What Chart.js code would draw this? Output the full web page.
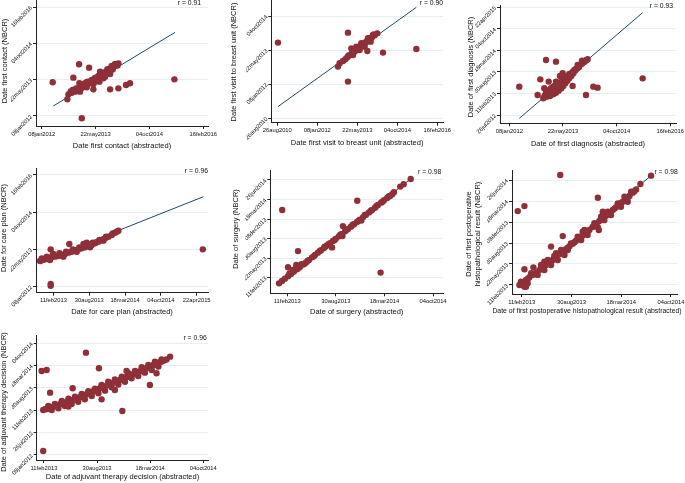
<!DOCTYPE html>
<html>
<head>
<meta charset="utf-8">
<script src="https://cdn.jsdelivr.net/npm/chart.js@4.4.1/dist/chart.umd.min.js"></script>
<style>
  html, body { margin: 0; padding: 0; background: #fff; width: 685px; height: 483px; overflow: hidden; }
  canvas { position: absolute; left: -20px; top: -20px; }
</style>
</head>
<body>
<canvas id="c1" width="725" height="523"></canvas>
<canvas id="c2" width="725" height="523"></canvas>
<canvas id="c3" width="725" height="523"></canvas>
<canvas id="c4" width="725" height="523"></canvas>
<canvas id="c5" width="725" height="523"></canvas>
<canvas id="c6" width="725" height="523"></canvas>
<canvas id="c7" width="725" height="523"></canvas>
<script>
// all values are days since 01jan2013, [abstracted, NBCR]

// tick labels
const ticks2012_16 = ['08jan2012', '22may2013', '04oct2014', '16feb2016'];
const ticks2010_16 = ['26aug2010', '08jan2012', '22may2013', '04oct2014', '16feb2016'];
const ticks2010_14 = ['26aug2010', '08jan2012', '22may2013', '04oct2014'];
const ticksDiagY = ['26jul2012', '11feb2013', '30aug2013', '18mar2014', '04oct2014', '22apr2015'];
const ticksPlanX = ['11feb2013', '30aug2013', '18mar2014', '04oct2014', '22apr2015'];
const ticksShortX = ['11feb2013', '30aug2013', '18mar2014', '04oct2014'];
const ticksShortY = ['11feb2013', '22may2013', '30aug2013', '08dec2013', '18mar2014', '26jun2014'];
const ticksAdjY = ['08jan2012', '26jul2012', '11feb2013', '30aug2013', '18mar2014', '04oct2014'];

// titles
const xTitles = [
  'Date first contact (abstracted)',
  'Date first visit to breast unit (abstracted)',
  'Date of first diagnosis (abstracted)',
  'Date for care plan (abstracted)',
  'Date of surgery (abstracted)',
  'Date of first postoperative histopathological result (abstracted)',
  'Date of adjuvant therapy decision (abstracted)'
];
const yTitles = [
  ['Date first contact (NBCR)'],
  ['Date first visit to breast unit (NBCR)'],
  ['Date of first diagnosis (NBCR)'],
  ['Date for care plan (NBCR)'],
  ['Date of surgery (NBCR)'],
  ['Date of first postoperative', 'histopathological result (NBCR)'],
  ['Date of adjuvant therapy decision (NBCR)']
];
const rValues = ['0.91', '0.90', '0.93', '0.96', '0.98', '0.98', '0.96'];

// data
const contactPts = [[-111,-61],[-80,-38],[-49,-24],[-28,-1],[-3,8],[22,36],[43,54],[65,82],[90,91],[115,114],
  [136,128],[158,146],[183,174],[198,206],[220,229],[239,252],[260,275],[282,298],[307,320],[331,343],[353,366],
  [322,357],[291,330],[251,284],[214,238],[183,252],[167,192],[136,160],[105,137],[74,114],[43,91],[-3,54],
  [-40,22],[-71,-1],[-3,-24],[59,36],[121,82],[177,114],[229,183],[276,219],[214,160],
  [-90,-20],[-60,-10],[-20,20],[10,25],[30,60],[55,70],[80,100],[100,95],[130,140],[150,120],[170,160],
  [190,190],[210,200],[230,210],[250,260],[270,250],[290,310],[300,280],[320,330],[340,350],[345,335],
  [0,40],[-30,10],[20,70],[60,110],[140,170],[200,230],
  [-257,105],[-121,-129],[-12,353],[81,307],[-65,169],[-9,91],[13,-391],[121,8],[276,8],[353,22],[424,68],[461,91],[873,146]];
const contactFit = [[-251,-221],[879,793]];

const visitPts = [[-80,-52],[-38,-18],[-9,6],[16,36],[45,65],[74,94],[108,119],[141,143],[170,177],[199,207],
  [233,241],[266,270],[295,299],[324,329],[358,358],[391,387],[66,167],[129,192],[191,241],[274,314],[337,363],
  [87,70],[170,143],[233,192],[308,265],[30,60],[100,130],[150,170],[210,230],[250,260],[300,320],[350,370],
  [-851,251],[24,397],[24,-321],[-101,-101],[266,128],[462,104],[879,158]];
const visitFit = [[-851,-688],[879,769]];

const diagPts = [[-42,-4],[-11,11],[20,17],[51,33],[76,48],[101,67],[126,89],[144,110],[163,135],[182,160],
  [200,181],[219,203],[238,228],[256,253],[275,274],[293,296],[312,315],[331,330],[349,345],[371,358],
  [-17,48],[14,73],[45,98],[76,120],[107,141],[132,166],[157,191],[45,42],[92,98],[123,129],[-2,27],[29,58],
  [60,79],[200,222],[247,259],[278,305],[318,345],[113,203],[138,228],[76,151],
  [10,30],[40,60],[70,95],[100,110],[130,150],[150,170],[170,170],[190,200],[210,215],[230,240],[260,265],
  [290,285],[320,320],[340,335],[360,350],[-30,20],[0,60],[30,90],[60,110],[90,130],
  [-266,104],[884,181],[-17,352],[76,336],[-70,172],[-95,27],[231,110],[356,27],[424,104],[464,95],[8,151],[-33,89]];
const diagFit = [[-266,-190],[884,791]];

const planPts = [[-33,-14],[-19,-1],[-4,8],[13,21],[32,35],[50,44],[69,53],[88,66],[106,80],[125,98],[143,111],
  [162,124],[181,142],[199,156],[218,169],[237,187],[255,201],[274,223],[292,245],[311,268],[330,290],[348,312],
  [367,335],[385,366],[404,393],[-24,21],[4,44],[37,66],[75,89],[112,111],[149,142],[186,169],[223,201],
  [261,232],[298,268],[335,312],[372,357],[22,-1],[97,44],[171,111],[246,169],[320,259],[395,380],[41,80],
  [227,232],[209,214],
  [26,142],[130,214],[26,-323],[26,-346],[875,142]];
const planFit = [[-33,-23],[879,850]];

const surgeryPts = [[7,12],[19,24],[31,36],[44,48],[56,60],[68,72],[81,84],[93,96],[106,108],[118,119],[130,131],
  [143,145],[155,157],[167,169],[180,181],[192,193],[204,205],[217,217],[229,229],[241,241],[254,253],[266,264],
  [279,278],[291,290],[303,302],[316,314],[328,326],[340,338],[353,351],[365,363],[377,375],[390,387],[402,399],
  [414,413],[427,425],[439,437],[452,449],[464,459],[473,468],[506,507],[520,519],[549,546],
  [50,62],[62,70],[75,86],[88,92],[100,110],[112,112],[125,128],[150,150],[175,178],[198,200],[210,212],
  [236,234],[260,262],[285,286],[310,312],[335,333],[360,362],[385,384],[408,408],[433,430],[458,456],[480,478],
  [78,106],[64,80],[195,200],
  [20,387],[44,94],[85,177],[82,101],[329,435],[425,67],[270,305],[268,254],[225,196],[346,333]];
const surgeryFit = [[7,10],[549,547]];

const histoPts = [[32,41],[45,52],[58,65],[72,78],[85,89],[99,100],[112,112],[125,125],[139,136],[152,149],
  [166,160],[179,173],[192,187],[206,200],[219,212],[233,225],[246,238],[259,252],[273,265],[286,277],[300,290],
  [313,303],[326,317],[340,331],[353,346],[367,358],[380,371],[393,385],[407,398],[420,412],[434,425],[447,438],
  [460,452],[474,465],[487,481],[501,496],
  [52,33],[38,57],[65,49],[79,97],[105,89],[119,136],[132,112],[146,160],[159,136],[172,179],[186,160],[199,208],
  [213,184],[239,239],[226,208],[266,271],[280,255],[293,303],[306,279],[333,335],[347,316],[360,366],[373,350],
  [387,390],[400,374],[427,430],[440,414],[454,462],[467,438],[481,485],[132,152],[179,192],[286,295],[367,374],
  [40,45],[65,70],[92,95],[118,118],[145,142],[172,166],[199,193],[226,219],[253,245],[280,271],[306,297],
  [333,324],[360,352],[387,378],[414,405],[440,432],[467,458],[494,488],
  [518,522],[561,562],
  [196,565],[25,393],[52,417],[347,457],[52,116],[206,274],[159,224],[351,303],[367,390],[58,33],[88,125]];
const histoFit = [[32,38],[561,562]];

const adjPts = [[38,44],[51,53],[64,65],[76,74],[89,83],[101,95],[114,104],[126,115],[139,127],[151,136],[164,148],
  [177,157],[189,169],[202,184],[214,196],[227,211],[239,223],[252,238],[264,250],[277,262],[290,277],[302,289],
  [315,300],[327,312],[340,324],[352,339],[365,351],[377,363],[390,378],[403,390],[415,405],[428,420],[440,432],
  [453,447],[465,459],[478,471],[490,485],[503,497],[516,521],
  [57,80],[82,98],[108,124],[133,145],[158,163],[183,187],[208,211],[233,235],[258,268],[283,297],[308,318],
  [334,342],[359,372],[384,393],[409,426],[434,447],[459,477],[484,497],
  [70,44],[95,59],[120,80],[145,98],[170,118],[195,139],[221,169],[246,193],[271,217],[296,247],[321,271],
  [346,297],[371,327],[396,348],[421,378],[447,402],[472,432],[133,74],
  [45,50],[58,58],[83,78],[108,99],[133,121],[158,142],[183,163],[208,190],[233,217],[258,244],[283,270],
  [308,294],[334,318],[359,345],[384,370],[409,398],[434,426],[459,453],[484,478],[497,491],
  [32,393],[51,402],[64,199],[199,557],[248,417],[258,139],[149,238],[336,35],[440,268],[465,372],[352,393],
  [38,-323],[308,223]];
const adjFit = [[32,40],[516,521]];

// layout: plot rectangles in page pixels, axis ranges, title / label anchors
const panels = [
  { id: 'c1', pts: contactPts, fit: contactFit, xt: ticks2012_16, yt: ticks2012_16,
    L: 36, R: 208, T: 0, B: 126, xmin: -412, xmax: 1185, ymin: -497, ymax: 1239,
    xty: 145.7, ytx: 5, yty: 61, rx: 201, ry: 3.5 },
  { id: 'c2', pts: visitPts, fit: visitFit, xt: ticks2010_16, yt: ticks2010_14,
    L: 271.3, R: 443, T: 0, B: 122.7, xmin: -934, xmax: 1212, ymin: -924, ymax: 876,
    xty: 143.3, ytx: 234, yty: 62, rx: 443, ry: 3.5 },
  { id: 'c3', pts: diagPts, fit: diagFit, xt: ticks2012_16, yt: ticksDiagY,
    L: 500, R: 676, T: 5, B: 123.3, xmin: -446, xmax: 1195, ymin: -236, ymax: 862,
    xty: 144, ytx: 471, yty: 67, rx: 673, ry: 6 },
  { id: 'c4', pts: planPts, fit: planFit, xt: ticksPlanX, yt: ticks2012_16,
    L: 36, R: 208, T: 168, B: 292.7, xmin: -56, xmax: 904, ymin: -440, ymax: 1235,
    xty: 311.7, ytx: 4, yty: 228, rx: 208, ry: 170.7 },
  { id: 'c5', pts: surgeryPts, fit: surgeryFit, xt: ticksShortX, yt: ticksShortY,
    L: 270.3, R: 443, T: 170, B: 293.3, xmin: -29, xmax: 682, ymin: -39, ymax: 592,
    xty: 311.7, ytx: 236.3, yty: 229, rx: 441.3, ry: 171.7 },
  { id: 'c6', pts: histoPts, fit: histoFit, xt: ticksShortX, yt: ticksShortY,
    L: 512, R: 677.7, T: 170, B: 294, xmin: 2, xmax: 668, ymin: -2, ymax: 589,
    xty: 311, xtx: 587, xfs: 6.9, ytx: 469.3, yty: 234, rx: 677.7, ry: 171.7 },
  { id: 'c7', pts: adjPts, fit: adjFit, xt: ticksShortX, yt: ticksAdjY,
    L: 36.7, R: 208.3, T: 335, B: 460, xmin: 13.5, xmax: 660, ymin: -404, ymax: 715,
    xty: 477, ytx: 3.5, yty: 402, rx: 206.7, ry: 338.3 }
];

const OFF = 20, W = 725, H = 523, YW = 25, XH = 20;
const MAROON = '#8f2f37', NAVY = '#1a476f', GRID = '#e6eff0', AXIS = '#222';
const FONT = '"Liberation Sans", Arial, Helvetica, sans-serif';
const MON = ['jan','feb','mar','apr','may','jun','jul','aug','sep','oct','nov','dec'];
const BASE = Date.UTC(2013, 0, 1);

function dayOf(s) {
  return (Date.UTC(+s.slice(5), MON.indexOf(s.slice(2, 5)), +s.slice(0, 2)) - BASE) / 864e5;
}
function fmtDay(v) {
  const d = new Date(BASE + Math.round(v) * 864e5);
  return String(d.getUTCDate()).padStart(2, '0') + MON[d.getUTCMonth()] + d.getUTCFullYear();
}

// axis titles and r label, drawn at page positions
const panelText = {
  id: 'panelText',
  afterDraw(chart, args, o) {
    const ctx = chart.ctx;
    const a = chart.chartArea;
    ctx.save();
    ctx.fillStyle = '#111';
    ctx.textBaseline = 'middle';
    ctx.font = (o.xfs || 7.5) + 'px ' + FONT;
    ctx.textAlign = 'center';
    const cx = o.xtx != null ? o.xtx + OFF : (a.left + a.right) / 2;
    ctx.fillText(o.xTitle, cx, o.xty + OFF);
    ctx.font = '7.5px ' + FONT;
    ctx.save();
    ctx.translate(o.ytx + OFF, o.yty + OFF);
    ctx.rotate(-Math.PI / 2);
    o.yTitle.forEach((line, i) => ctx.fillText(line, 0, i * 8.4));
    ctx.restore();
    ctx.font = '6.8px ' + FONT;
    ctx.textAlign = 'right';
    ctx.fillText('r = ' + o.r, o.rx + OFF, o.ry + OFF);
    ctx.restore();
  }
};

function axis(min, max, labels, isY) {
  return {
    type: 'linear',
    min: min,
    max: max,
    afterBuildTicks: s => { s.ticks = labels.map(l => ({ value: dayOf(l) })); },
    afterFit: s => { if (isY) s.width = YW; else s.height = XH; },
    ticks: {
      autoSkip: false,
      minRotation: isY ? 45 : 0,
      maxRotation: isY ? 45 : 0,
      padding: 1.5,
      color: '#111',
      font: { family: FONT, size: 5.8 },
      callback: v => fmtDay(v)
    },
    grid: {
      drawOnChartArea: isY,
      color: GRID,
      lineWidth: 1,
      tickLength: 3,
      tickColor: AXIS
    },
    border: { display: true, color: AXIS, width: 1 }
  };
}

panels.forEach((p, i) => {
  new Chart(document.getElementById(p.id), {
    type: 'scatter',
    data: {
      datasets: [
        {
          data: p.pts.map(([x, y]) => ({ x, y })),
          backgroundColor: MAROON,
          borderWidth: 0,
          pointRadius: 3.2,
          order: 1,
          clip: false
        },
        {
          data: p.fit.map(([x, y]) => ({ x, y })),
          showLine: true,
          borderColor: NAVY,
          borderWidth: 1,
          pointRadius: 0,
          order: 2,
          clip: false
        }
      ]
    },
    options: {
      responsive: false,
      animation: false,
      devicePixelRatio: 1,
      layout: {
        padding: {
          left: p.L + OFF - YW,
          top: p.T + OFF,
          right: W - (p.R + OFF),
          bottom: H - (p.B + OFF) - XH
        }
      },
      plugins: {
        legend: { display: false },
        tooltip: { enabled: false },
        panelText: {
          xTitle: xTitles[i], yTitle: yTitles[i], r: rValues[i],
          xty: p.xty, xtx: p.xtx, xfs: p.xfs, ytx: p.ytx, yty: p.yty, rx: p.rx, ry: p.ry
        }
      },
      scales: {
        x: axis(p.xmin, p.xmax, p.xt, false),
        y: axis(p.ymin, p.ymax, p.yt, true)
      }
    },
    plugins: [panelText]
  });
});
</script>
</body>
</html>
